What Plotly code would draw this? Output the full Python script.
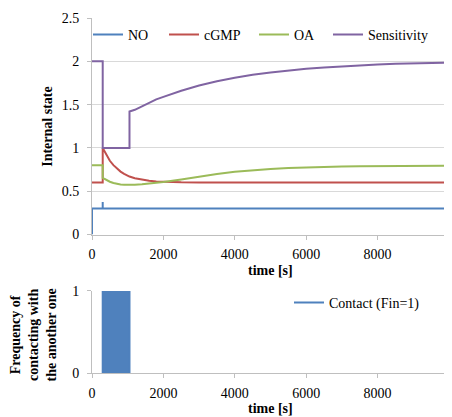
import plotly.graph_objects as go

# ---------------- data ----------------
time = [0, 300, 300, 400, 500, 600, 700, 800, 900, 1000, 1050, 1050, 1200, 1400,
        1600, 1800, 2000, 2500, 3000, 3500, 4000, 4500, 5000, 5500, 6000, 6500,
        7000, 7500, 8000, 8500, 9000, 9500, 10000]

cgmp = [0.6, 0.6, 1.0, 0.918, 0.852, 0.801, 0.760, 0.727, 0.701, 0.680, 0.670, 0.670,
        0.651, 0.632, 0.620, 0.613, 0.608, 0.603, 0.601, 0.6, 0.6, 0.6, 0.6, 0.6,
        0.6, 0.6, 0.6, 0.6, 0.6, 0.6, 0.6, 0.6, 0.6]

oa = [0.8, 0.8, 0.655, 0.630, 0.610, 0.595, 0.585, 0.578, 0.575, 0.574, 0.574, 0.574,
      0.576, 0.582, 0.590, 0.598, 0.606, 0.635, 0.668, 0.698, 0.724, 0.742, 0.756,
      0.767, 0.775, 0.781, 0.785, 0.789, 0.791, 0.793, 0.794, 0.795, 0.796]

sensitivity = [2.0, 2.0, 1.0, 1.0, 1.0, 1.0, 1.0, 1.0, 1.0, 1.0, 1.0, 1.42,
               1.44, 1.48, 1.52, 1.56, 1.59, 1.66, 1.72, 1.77, 1.81, 1.845, 1.87,
               1.895, 1.915, 1.93, 1.944, 1.955, 1.964, 1.971, 1.977, 1.982, 1.986]

no_time = [0, 0, 300, 300, 300, 10000]
no_vals = [0.0, 0.3, 0.3, 0.375, 0.3, 0.3]

contact_time = [300, 300, 1050, 1050]
contact_vals = [0, 1, 1, 0]

x_ticks = [0, 2000, 4000, 6000, 8000, 10000]
x_labels = ["0", "2000", "4000", "6000", "8000", ""]
y1_ticks = [0, 0.5, 1, 1.5, 2, 2.5]
y1_labels = ["0", "0.5", "1", "1.5", "2", "2.5"]
y2_ticks = [0, 1]
y2_labels = ["0", "1"]

# ---------------- styling ----------------
FONT = "Liberation Serif, Times New Roman, serif"
BLUE, RED, GREEN, PURPLE = "#4F81BD", "#C0504D", "#9BBB59", "#8064A2"
GRID = "#D9D9D9"
AXIS = "#BFBFBF"

fig = go.Figure()

fig.add_trace(go.Scatter(x=no_time, y=no_vals, mode="lines", name="NO",
                         line=dict(color=BLUE, width=2), legend="legend",
                         xaxis="x", yaxis="y"))
fig.add_trace(go.Scatter(x=time, y=cgmp, mode="lines", name="cGMP",
                         line=dict(color=RED, width=2), legend="legend2",
                         xaxis="x", yaxis="y"))
fig.add_trace(go.Scatter(x=time, y=oa, mode="lines", name="OA",
                         line=dict(color=GREEN, width=2), legend="legend3",
                         xaxis="x", yaxis="y"))
fig.add_trace(go.Scatter(x=time, y=sensitivity, mode="lines", name="Sensitivity",
                         line=dict(color=PURPLE, width=2), legend="legend4",
                         xaxis="x", yaxis="y"))

# contact area (fill) + line trace for the legend
fig.add_trace(go.Scatter(x=contact_time, y=contact_vals, mode="lines", fill="tozeroy",
                         fillcolor=BLUE, line=dict(color=BLUE, width=0.5),
                         showlegend=False, xaxis="x2", yaxis="y2"))
fig.add_trace(go.Scatter(x=contact_time, y=contact_vals, mode="lines",
                         name="Contact (Fin=1)", line=dict(color=BLUE, width=2),
                         legend="legend5", xaxis="x2", yaxis="y2"))

# page body has an 8px margin: the figure is sized/offset so the plot areas land
# at page x 92..449 and y 14..233 / 290..373
OFF = 8
W, H = 452 - OFF, 417 - OFF
plot_left, plot_right, plot_top, plot_bottom = 92, 449, 14, 373
L = plot_left - OFF
T = plot_top - OFF
R = 452 - plot_right
B = 417 - plot_bottom
plot_w = plot_right - plot_left
plot_h = plot_bottom - plot_top


def py(page_y):
    return (plot_bottom - page_y) / plot_h


def px(page_x):
    return (page_x - plot_left) / plot_w


axis_common = dict(
    showline=True, linecolor=AXIS, linewidth=1,
    ticks="outside", tickcolor=AXIS, ticklen=4,
    tickfont=dict(family=FONT, size=14, color="#000000"),
    zeroline=False,
)

legend_common = dict(
    orientation="h", yanchor="middle", xanchor="left",
    bgcolor="rgba(0,0,0,0)", borderwidth=0,
    font=dict(family=FONT, size=14, color="#000000"),
    itemwidth=30,
)

fig.update_layout(
    width=W, height=H,
    margin=dict(l=L, r=R, t=T, b=B),
    paper_bgcolor="white", plot_bgcolor="white",
    xaxis=dict(domain=[0, 1], range=[0, 10000], tickvals=x_ticks, ticktext=x_labels,
               showgrid=False, anchor="y", ticklabelstandoff=3, **axis_common),
    yaxis=dict(domain=[py(233), 1], range=[0, 2.5], tickvals=y1_ticks,
               ticktext=y1_labels, showgrid=True, gridcolor=GRID, gridwidth=1,
               anchor="x", ticklabelstandoff=5, **axis_common),
    xaxis2=dict(domain=[0, 1], range=[0, 10000], tickvals=x_ticks, ticktext=x_labels,
                showgrid=False, anchor="y2", ticklabelstandoff=3, **axis_common),
    yaxis2=dict(domain=[0, py(290)], range=[0, 1], tickvals=y2_ticks,
                ticktext=y2_labels, showgrid=True, gridcolor=GRID, gridwidth=1,
                anchor="x2", ticklabelstandoff=5, **axis_common),
    legend=dict(x=px(88), y=py(31), **legend_common),
    legend2=dict(x=px(164), y=py(31), **legend_common),
    legend3=dict(x=px(254), y=py(31), **legend_common),
    legend4=dict(x=px(328), y=py(31), **legend_common),
    legend5=dict(x=px(289), y=py(302), **legend_common),
    annotations=[
        dict(text="<b>Internal state</b>", xref="paper", yref="paper",
             x=px(48), y=py(124), textangle=-90, showarrow=False,
             xanchor="center", yanchor="middle",
             font=dict(family=FONT, size=14, color="#000000")),
        dict(text="<b>time [s]</b>", xref="paper", yref="paper",
             x=px(270), y=py(269), showarrow=False,
             xanchor="center", yanchor="middle",
             font=dict(family=FONT, size=14, color="#000000")),
        dict(text="<b>Frequency of<br>contacting with<br>the another one</b>",
             xref="paper", yref="paper", x=px(33), y=py(335), textangle=-90,
             showarrow=False, xanchor="center", yanchor="middle",
             font=dict(family=FONT, size=14, color="#000000")),
        dict(text="<b>time [s]</b>", xref="paper", yref="paper",
             x=px(270), y=py(409), showarrow=False,
             xanchor="center", yanchor="middle",
             font=dict(family=FONT, size=14, color="#000000")),
    ],
)

fig.write_html("out.html")
